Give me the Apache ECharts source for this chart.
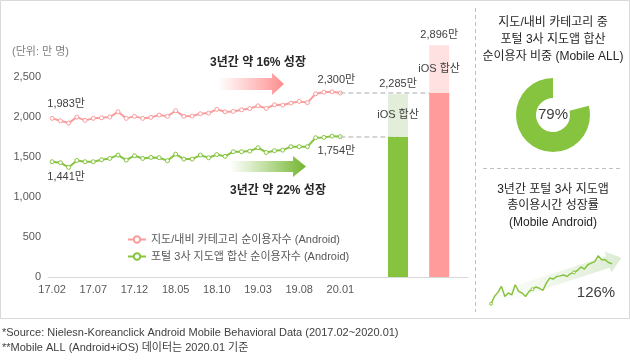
<!DOCTYPE html>
<html><head><meta charset="utf-8">
<script src="https://cdn.jsdelivr.net/npm/echarts@6/dist/echarts.min.js"></script>
<style>html,body{margin:0;padding:0;background:#fff}#c{width:630px;height:360px}</style>
</head><body><div id="c"></div>
<script>
const months = ['17.02','17.03','17.04','17.05','17.06','17.07','17.08','17.09','17.10','17.11','17.12',
 '18.01','18.02','18.03','18.04','18.05','18.06','18.07','18.08','18.09','18.10','18.11','18.12',
 '19.01','19.02','19.03','19.04','19.05','19.06','19.07','19.08','19.09','19.10','19.11','19.12','20.01'];
const naviUsers = [1983,1953,1924,1999,1958,1983,1990,1999,2065,1983,2008,1983,1995,2024,2008,2078,2008,2012,2041,2049,
 2095,2065,2070,2090,2105,2140,2108,2153,2149,2174,2195,2180,2290,2310,2315,2300];
const portalUsers = [1441,1429,1370,1457,1441,1441,1466,1482,1524,1461,1516,1482,1495,1491,1454,1536,1474,1474,1524,1491,
 1530,1508,1566,1566,1574,1616,1557,1579,1586,1629,1629,1629,1741,1745,1761,1754];
const barAndroid = [1754, 2300];
const barMobileAll = [2285, 2896];
const yTicks = [0, 500, 1000, 1500, 2000, 2500];
const portalShare = 79;
const usageGrowthIndex = [100,123,136,155,123,134,128,160,139,134,123,139,146,153,149,142,165,181,178,186,
 188,191,186,195,199,205,216,209,223,228,233,251,239,239,230,226];
const usageGrowth = 126;

const F = "'Liberation Sans','Noto Sans CJK KR',sans-serif";
const PINK = '#FA9C9C', GREEN = '#86C440';
const pads = []; for (let i = 1; i <= 15; i++) pads.push('pad' + i);
const cats = months.concat(pads);
const slotG = 42, slotP = 47;
const fmt = v => v.toLocaleString('en-US');
function barArr(vals) {
  const a = cats.map(() => null);
  a[slotG] = vals[0]; a[slotP] = vals[1];
  return a;
}
function lineData(arr, pos, offFirst, offLast) {
  return arr.map((v, i) => {
    if (i === 0 || i === arr.length - 1) {
      return {value: v, label: {show: true, position: pos, distance: 4, offset: i === 0 ? offFirst : offLast,
        formatter: fmt(v) + '만', color: '#404040', fontSize: 11, fontFamily: F}};
    }
    return v;
  });
}
const chart = echarts.init(document.getElementById('c'));
const last = months.length - 1;
chart.setOption({
  animation: false,
  grid: [
    {left: 48, top: 37, width: 420, height: 240},
    {left: 491, top: 253, width: 121, height: 54}
  ],
  xAxis: [
    {type: 'category', gridIndex: 0, data: cats, boundaryGap: true,
     axisLine: {lineStyle: {color: '#D9D9D9', width: 1}}, axisTick: {show: false},
     axisLabel: {interval: 0, color: '#595959', fontSize: 11, fontFamily: F, margin: 7,
       formatter: (v, i) => (i % 5 === 0 && i < months.length) ? v : ''}},
    {type: 'category', gridIndex: 1, data: months, boundaryGap: false, show: false}
  ],
  yAxis: [
    {type: 'value', gridIndex: 0, min: 0, max: 3000, interval: 500, splitLine: {show: false},
     axisLine: {show: false}, axisTick: {show: false},
     axisLabel: {color: '#595959', fontSize: 11, fontFamily: F, margin: 7,
       formatter: v => yTicks.indexOf(v) >= 0 ? fmt(v) : ''}},
    {type: 'value', gridIndex: 1, min: 90, max: 260, show: false}
  ],
  legend: {
    orient: 'vertical', left: 122, top: 229, itemGap: 6, itemWidth: 18, itemHeight: 8,
    textStyle: {color: '#595959', fontSize: 11, fontFamily: F},
    data: ['지도/내비 카테고리 순이용자수 (Android)', '포털 3사 지도앱 합산 순이용자수 (Android)']
  },
  series: [
    {name: '지도/내비 카테고리 순이용자수 (Android)', type: 'line', z: 2,
     data: lineData(naviUsers, 'top', [14, -2], [-4, -1]),
     symbol: 'circle', symbolSize: 4, lineStyle: {color: PINK, width: 2},
     itemStyle: {color: '#fff', borderColor: PINK, borderWidth: 1},
     markLine: {silent: true, symbol: 'none', label: {show: false},
       lineStyle: {color: '#C8C8C8', type: [5, 3], width: 1.5},
       data: [[{coord: [months[last], naviUsers[last]]}, {coord: [cats[slotP], naviUsers[last]]}]]}},
    {name: '포털 3사 지도앱 합산 순이용자수 (Android)', type: 'line', z: 2,
     data: lineData(portalUsers, 'bottom', [14, 3], [-4, 2]),
     symbol: 'circle', symbolSize: 4, lineStyle: {color: GREEN, width: 2},
     itemStyle: {color: '#fff', borderColor: GREEN, borderWidth: 1},
     markLine: {silent: true, symbol: 'none', label: {show: false},
       lineStyle: {color: '#C8C8C8', type: [5, 3], width: 1.5},
       data: [[{coord: [months[last], portalUsers[last]]}, {coord: [cats[slotG], portalUsers[last]]}]]}},
    {type: 'bar', stack: 'b', z: 5, barWidth: 20, barGap: '-100%',
     data: barArr(barAndroid).map((v, i) => v === null ? null :
       {value: v, itemStyle: {color: i === slotG ? '#86C440' : '#FF9B9B'}})},
    {type: 'bar', stack: 'b', z: 5, barWidth: 20,
     data: barArr(barMobileAll.map((t, k) => t - barAndroid[k])).map((v, i) => v === null ? null :
       {value: v, itemStyle: {color: i === slotG ? '#E2EEDA' : '#FFE1E2'}}),
     label: {show: true, position: 'inside', formatter: 'iOS 합산', color: '#404040', fontSize: 11, fontFamily: F},
     markPoint: {symbol: 'rect', symbolSize: 1, itemStyle: {color: 'transparent'},
       label: {show: true, position: 'top', distance: 4, color: '#404040', fontSize: 11, fontFamily: F,
         formatter: p => fmt(p.value) + '만'},
       data: [{coord: [cats[slotG], barMobileAll[0]], value: barMobileAll[0]},
              {coord: [cats[slotP], barMobileAll[1]], value: barMobileAll[1]}]}},
    {type: 'line', xAxisIndex: 1, yAxisIndex: 1, data: usageGrowthIndex, z: 3,
     symbol: 'circle', symbolSize: 3, lineStyle: {color: GREEN, width: 1.5},
     itemStyle: {color: '#fff', borderColor: GREEN, borderWidth: 1}},
    {type: 'pie', center: [553, 115], radius: [17, 37], startAngle: 90, clockwise: false,
     silent: true, label: {show: false}, labelLine: {show: false},
     data: [{value: portalShare, itemStyle: {color: '#86C440'}},
            {value: 100 - portalShare, itemStyle: {color: 'transparent'}}]}
  ],
  graphic: [
    {type: 'rect', shape: {x: 0.5, y: 0.5, width: 629, height: 318}, style: {fill: 'none', stroke: '#D9D9D9', lineWidth: 1}, z: -10},
    {type: 'line', shape: {x1: 475.5, y1: 8, x2: 475.5, y2: 312}, style: {stroke: '#BFBFBF', lineDash: [4, 3], lineWidth: 1}},
    {type: 'line', shape: {x1: 483, y1: 168.5, x2: 622, y2: 168.5}, style: {stroke: '#BFBFBF', lineDash: [4, 3], lineWidth: 1}},
    {type: 'text', left: 12, top: 46, style: {text: '(단위: 만 명)', fill: '#7F7F7F', font: '11px ' + F}},
    {type: 'polygon', z: 1, shape: {points: [[218, 78], [272, 78], [272, 73], [284, 84], [272, 95], [272, 90], [218, 90]]},
     style: {fill: new echarts.graphic.LinearGradient(0, 0, 1, 0, [{offset: 0, color: 'rgba(255,150,150,0)'}, {offset: 1, color: '#FF8C8C'}])}},
    {type: 'polygon', z: 1, shape: {points: [[230, 161], [293, 161], [293, 156], [306, 166.5], [293, 177], [293, 172], [230, 172]]},
     style: {fill: new echarts.graphic.LinearGradient(0, 0, 1, 0, [{offset: 0, color: 'rgba(125,190,58,0)'}, {offset: 1, color: '#72B52E'}])}},
    {type: 'text', style: {x: 258, y: 63, text: '3년간 약 16% 성장', fill: '#262626', font: 'bold 12px ' + F, align: 'center', verticalAlign: 'middle'}},
    {type: 'text', style: {x: 278, y: 191, text: '3년간 약 22% 성장', fill: '#262626', font: 'bold 12px ' + F, align: 'center', verticalAlign: 'middle'}},
    {type: 'text', style: {x: 553, y: 40, text: '지도/내비 카테고리 중\n포털 3사 지도앱 합산\n순이용자 비중 (Mobile ALL)', fill: '#262626', font: '12px ' + F, align: 'center', verticalAlign: 'middle', lineHeight: 17}},
    {type: 'text', style: {x: 553, y: 115, text: portalShare + '%', fill: '#404040', font: '15px ' + F, align: 'center', verticalAlign: 'middle'}},
    {type: 'text', style: {x: 553, y: 206, text: '3년간 포털 3사 지도앱\n총이용시간 성장률\n(Mobile Android)', fill: '#262626', font: '12px ' + F, align: 'center', verticalAlign: 'middle', lineHeight: 16.5}},
    {type: 'polygon', z: 0, shape: {points: [[488.2, 294.3], [606.2, 256.3], [604.6, 251.5], [621.3, 257.7], [611.4, 272.5], [609.8, 267.7], [491.8, 305.7]]},
     style: {fill: new echarts.graphic.LinearGradient(0, 0, 1, 0, [{offset: 0, color: 'rgba(226,239,218,0)'}, {offset: 1, color: '#DCEBD2'}])}},
    {type: 'text', style: {x: 596, y: 293, text: usageGrowth + '%', fill: '#404040', font: '15px ' + F, align: 'center', verticalAlign: 'middle'}},
    {type: 'text', style: {x: 2, y: 333, text: '*Source: Nielesn-Koreanclick Android Mobile Behavioral Data (2017.02~2020.01)', fill: '#404040', font: '11px ' + F, verticalAlign: 'middle'}},
    {type: 'text', style: {x: 2, y: 348, text: '**Mobile ALL (Android+iOS) 데이터는 2020.01 기준', fill: '#404040', font: '11px ' + F, verticalAlign: 'middle'}}
  ]
});
</script></body></html>
